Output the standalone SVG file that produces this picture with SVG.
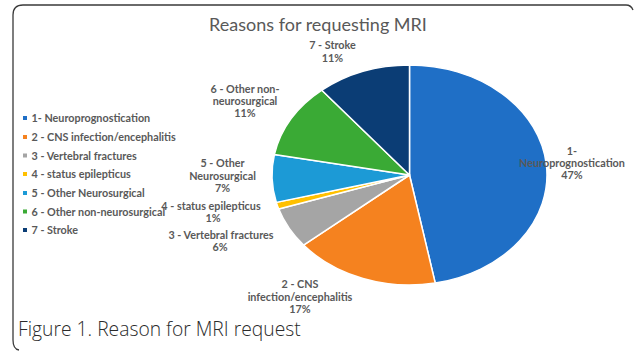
<svg xmlns="http://www.w3.org/2000/svg" width="634" height="355" viewBox="0 0 634 355">
<style>
.lbl{font-family:Lato,"Open Sans","Liberation Sans",sans-serif;font-size:10.8px;font-weight:700;fill:#595959;text-anchor:middle}
.leg{font-family:Lato,"Open Sans","Liberation Sans",sans-serif;font-size:10.8px;font-weight:700;fill:#595959}
.sl{stroke:#ffffff;stroke-width:1.5;stroke-linejoin:round}
</style>
<rect width="634" height="355" fill="#ffffff"/>
<path d="M 19 350 Q 13 349 13 340 L 13 15 Q 13 5 23 5 L 626 5 Q 631 5 633 10" fill="none" stroke="#3a3a3a" stroke-width="1.3"/>
<text x="318" y="31" font-family="Lato,'Open Sans','Liberation Sans',sans-serif" font-size="18" fill="#595959" text-anchor="middle">Reasons for requesting MRI</text>
<g id="pie">
<path id="s1" class="sl" fill="#1F6FC6" d="M409.5 175 L409.5 65 A137.5 110 0 0 1 435.26 283.05 Z"/>
<path id="s2" class="sl" fill="#F5821F" d="M409.5 175 L435.26 283.05 A137.5 110 0 0 1 303.55 245.12 Z"/>
<path id="s3" class="sl" fill="#A5A5A5" d="M409.5 175 L303.55 245.12 A137.5 110 0 0 1 278.73 208.99 Z"/>
<path id="s4" class="sl" fill="#FFC000" d="M409.5 175 L278.73 208.99 A137.5 110 0 0 1 276.32 202.36 Z"/>
<path id="s5" class="sl" fill="#1C9AD6" d="M409.5 175 L276.32 202.36 A137.5 110 0 0 1 274.44 154.39 Z"/>
<path id="s6" class="sl" fill="#3AAA35" d="M409.5 175 L274.44 154.39 A137.5 110 0 0 1 321.85 90.24 Z"/>
<path id="s7" class="sl" fill="#0B3D75" d="M409.5 175 L321.85 90.24 A137.5 110 0 0 1 409.5 65 Z"/>
</g>
<g id="labels">
<text class="lbl" x="572" y="154.5">1-</text>
<text class="lbl" x="572" y="166.5">Neuroprognostication</text>
<text class="lbl" x="572" y="179">47%</text>
<text class="lbl" x="300" y="288">2 - CNS</text>
<text class="lbl" x="300" y="300.5">infection/encephalitis</text>
<text class="lbl" x="300" y="313">17%</text>
<text class="lbl" x="221" y="239">3 - Vertebral fractures</text>
<text class="lbl" x="220" y="251">6%</text>
<text class="lbl" x="211" y="210">4 - status epilepticus</text>
<text class="lbl" x="213" y="222">1%</text>
<text class="lbl" x="222.5" y="167">5 - Other</text>
<text class="lbl" x="222.5" y="180">Neurosurgical</text>
<text class="lbl" x="222.5" y="192">7%</text>
<text class="lbl" x="245" y="93">6 - Other non-</text>
<text class="lbl" x="245" y="105">neurosurgical</text>
<text class="lbl" x="245" y="117">11%</text>
<text class="lbl" x="332.5" y="48.5">7 - Stroke</text>
<text class="lbl" x="332.5" y="61.5">11%</text>
</g>
<g id="legend">
<rect x="23" y="116" width="4" height="4" fill="#1F6FC6"/><text class="leg" x="31.5" y="122">1- Neuroprognostication</text>
<rect x="23" y="135" width="4" height="4" fill="#F5821F"/><text class="leg" x="31.5" y="141">2 - CNS infection/encephalitis</text>
<rect x="23" y="153.5" width="4" height="4" fill="#A5A5A5"/><text class="leg" x="31.5" y="159.5">3 - Vertebral fractures</text>
<rect x="23" y="172" width="4" height="4" fill="#FFC000"/><text class="leg" x="31.5" y="178">4 - status epilepticus</text>
<rect x="23" y="191" width="4" height="4" fill="#1C9AD6"/><text class="leg" x="31.5" y="197">5 - Other Neurosurgical</text>
<rect x="23" y="209.5" width="4" height="4" fill="#3AAA35"/><text class="leg" x="31.5" y="215.5">6 - Other non-neurosurgical</text>
<rect x="23" y="228" width="4" height="4" fill="#0B3D75"/><text class="leg" x="31.5" y="234">7 - Stroke</text>
</g>
<text x="18" y="336" font-family="'Open Sans','Liberation Sans',sans-serif" font-size="19.3" font-weight="300" fill="#2b2b2b">Figure 1. Reason for MRI request</text>
</svg>
